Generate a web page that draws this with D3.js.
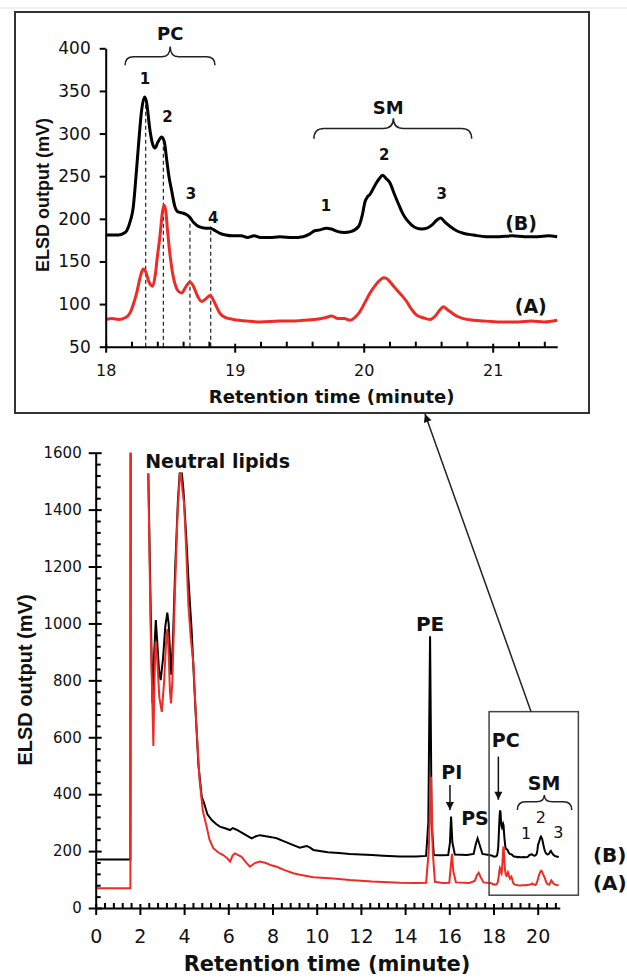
<!DOCTYPE html>
<html lang="en">
<head>
  <meta charset="UTF-8">
  <title>ELSD chromatogram</title>
  <script src="https://cdn.jsdelivr.net/npm/d3@7/dist/d3.min.js"></script>
  <style>
    body { margin: 0; background: #fff; }
  </style>
</head>
<body>
<svg></svg>
<script>
  const width = 627, height = 979

  // zoomed PC / SM region, [time (min), ELSD (mV)]
  const zoomB = [
    [18.00, 181], [18.10, 181], [18.14, 183], [18.163, 186], [18.19, 197], [18.214, 214],
    [18.235, 250], [18.253, 284], [18.279, 328], [18.30, 343], [18.315, 338], [18.343, 304],
    [18.365, 287], [18.382, 283], [18.405, 290], [18.434, 296], [18.455, 290], [18.473, 269],
    [18.49, 250], [18.51, 234], [18.537, 214], [18.56, 208], [18.59, 207], [18.625, 205],
    [18.65, 202], [18.68, 196], [18.71, 192], [18.74, 190], [18.78, 189], [18.81, 189],
    [18.85, 186], [18.886, 183], [18.93, 181], [18.98, 180], [19.05, 180], [19.10, 178],
    [19.15, 180], [19.20, 178], [19.27, 178], [19.35, 179], [19.45, 178], [19.53, 179],
    [19.58, 182], [19.62, 186], [19.66, 187], [19.71, 189], [19.75, 188], [19.80, 185],
    [19.85, 184], [19.90, 185], [19.96, 191], [19.99, 205], [20.01, 220], [20.03, 226],
    [20.05, 229], [20.09, 240], [20.12, 247], [20.147, 251], [20.175, 247], [20.204, 242],
    [20.235, 230], [20.268, 218], [20.30, 207], [20.333, 199], [20.37, 193], [20.41, 189],
    [20.45, 188], [20.49, 189], [20.53, 193], [20.57, 199], [20.597, 201], [20.63, 196],
    [20.67, 191], [20.72, 186], [20.772, 183], [20.85, 181], [20.95, 179], [21.05, 179],
    [21.15, 180], [21.25, 179], [21.35, 179], [21.43, 180], [21.50, 179]
  ]
  const zoomA = [
    [18.00, 82], [18.05, 83], [18.10, 82], [18.15, 84], [18.19, 90], [18.215, 100],
    [18.24, 113], [18.265, 130], [18.29, 141], [18.31, 138], [18.335, 126], [18.364, 121],
    [18.385, 135], [18.40, 155], [18.42, 179], [18.44, 208], [18.452, 216], [18.465, 210],
    [18.48, 185], [18.50, 156], [18.52, 135], [18.545, 120], [18.563, 115], [18.59, 113],
    [18.62, 120], [18.653, 126], [18.68, 121], [18.71, 110], [18.744, 103], [18.775, 106],
    [18.81, 110], [18.84, 103], [18.865, 95], [18.886, 89], [18.93, 84], [18.99, 82],
    [19.10, 80], [19.20, 79], [19.35, 80], [19.45, 80], [19.53, 81], [19.62, 82],
    [19.70, 84], [19.752, 86], [19.80, 83], [19.85, 83], [19.894, 81], [19.93, 84],
    [19.97, 91], [20.01, 102], [20.049, 113], [20.09, 122], [20.126, 128], [20.155, 131],
    [20.178, 130], [20.21, 125], [20.243, 119], [20.29, 111], [20.333, 103], [20.37, 94],
    [20.41, 87], [20.46, 84], [20.514, 82], [20.56, 87], [20.59, 93], [20.617, 97],
    [20.645, 94], [20.68, 90], [20.72, 86], [20.772, 83], [20.85, 81], [20.95, 80],
    [21.08, 79], [21.20, 79], [21.30, 80], [21.40, 79], [21.50, 81]
  ]

  // whole run up to 18 min (null = off scale); the rest comes from the zoom arrays
  const fullB = [
    [0, 170], [1.57, 170], [1.58, 1600], [2.0, null], [2.38, 1527], [2.50, 1000], [2.57, 720],
    [2.65, 900], [2.72, 1012], [2.78, 940], [2.86, 840], [2.94, 801], [3.05, 880], [3.15, 990],
    [3.24, 1038], [3.30, 1000], [3.36, 900], [3.42, 820], [3.50, 950], [3.60, 1200], [3.72, 1430],
    [3.80, 1527], [3.90, 1527], [3.97, 1469], [4.10, 1300], [4.20, 1150], [4.34, 977], [4.50, 720],
    [4.65, 500], [4.80, 390], [4.90, 370], [5.05, 330], [5.25, 309], [5.45, 295], [5.62, 286],
    [5.85, 280], [6.08, 274], [6.20, 281], [6.35, 276], [6.53, 268], [6.80, 256], [7.06, 245],
    [7.25, 252], [7.43, 256], [7.70, 252], [7.95, 249], [8.19, 245], [8.50, 235], [8.94, 221],
    [9.24, 212], [9.45, 216], [9.55, 218], [9.70, 212], [9.85, 204], [10.5, 196], [11.0, 193],
    [11.5, 190], [12.0, 188], [12.5, 186], [13.0, 184], [13.77, 181], [14.5, 181], [14.95, 183],
    [15.05, 300], [15.13, 955], [15.20, 300], [15.30, 186], [15.60, 185], [15.95, 186],
    [16.03, 230], [16.08, 321], [16.14, 230], [16.25, 188], [16.8, 186], [17.10, 190],
    [17.20, 225], [17.28, 245], [17.36, 225], [17.50, 190], [17.80, 186], [17.95, 184]
  ]
  const fullA = [
    [0, 69], [1.57, 69], [1.58, 1600], [2.0, null], [2.38, 1527], [2.48, 1000], [2.61, 569],
    [2.66, 800], [2.71, 936], [2.78, 880], [2.88, 740], [2.99, 689], [3.10, 800], [3.18, 930],
    [3.24, 980], [3.30, 900], [3.36, 760], [3.41, 719], [3.47, 800], [3.58, 1100], [3.70, 1380],
    [3.81, 1527], [3.86, 1527], [3.92, 1470], [4.00, 1422], [4.10, 1250], [4.19, 1070],
    [4.30, 950], [4.42, 860], [4.55, 650], [4.70, 450], [4.85, 340], [5.02, 286], [5.15, 240],
    [5.32, 210], [5.55, 195], [5.77, 186], [5.95, 175], [6.08, 163], [6.20, 185], [6.30, 192],
    [6.45, 186], [6.60, 180], [6.80, 160], [6.98, 145], [7.20, 158], [7.43, 163], [7.70, 158],
    [7.95, 150], [8.19, 145], [8.55, 133], [8.94, 122], [9.24, 117], [9.85, 108], [10.75, 104],
    [11.5, 98], [12.5, 93], [13.77, 89], [14.5, 88], [14.95, 89], [15.07, 200], [15.17, 461],
    [15.25, 200], [15.35, 92], [15.7, 88], [16.0, 89], [16.06, 140], [16.12, 190], [16.18, 130],
    [16.3, 90], [16.9, 88], [17.15, 95], [17.25, 115], [17.33, 124], [17.42, 108], [17.55, 90],
    [17.9, 87]
  ]

  const zoomTicksY = [50, 100, 150, 200, 250, 300, 350, 400]
  const zoomTicksX = [18, 19, 20, 21]
  const fullTicksY = [0, 200, 400, 600, 800, 1000, 1200, 1400, 1600]
  const fullTicksX = [0, 2, 4, 6, 8, 10, 12, 14, 16, 18, 20]

  // dashed markers under the PC peaks: [time, top value]
  const pcPeaks = [[18.31, 339], [18.447, 289], [18.653, 198], [18.814, 191]]

  // annotation text in data units
  const zoomLabels = [
    {text: 'PC', t: 18.5, v: 417, size: 18},
    {text: '1', t: 18.305, v: 365, size: 15}, {text: '2', t: 18.478, v: 320, size: 15},
    {text: '3', t: 18.661, v: 229, size: 15}, {text: '4', t: 18.834, v: 202, size: 15},
    {text: 'SM', t: 20.19, v: 331, size: 18},
    {text: '1', t: 19.708, v: 216, size: 15}, {text: '2', t: 20.16, v: 275, size: 15},
    {text: '3', t: 20.605, v: 229, size: 15},
    {text: '(B)', t: 21.22, v: 195, size: 19}, {text: '(A)', t: 21.295, v: 97, size: 19}
  ]
  const fullLabels = [
    {text: 'PE', t: 15.13, v: 1000, size: 20},
    {text: 'PI', t: 16.11, v: 479, size: 19},
    {text: 'PS', t: 17.16, v: 315, size: 19},
    {text: 'PC', t: 18.55, v: 590, size: 19},
    {text: 'SM', t: 20.29, v: 438, size: 19}
  ]
  const smNumbers = [{text: '1', t: 19.47, v: 262}, {text: '2', t: 20.14, v: 319}, {text: '3', t: 20.93, v: 265}]
  const sideLabels = [{text: '(B)', t: 22.5, v: 186}, {text: '(A)', t: 22.5, v: 87}]

  const svg = d3.select('svg')
      .attr('width', width)
      .attr('height', height)
      .style('background', '#fff')

  const defs = svg.append('defs')
  defs.append('marker')
      .attr('id', 'head')
      .attr('viewBox', '0 0 10 10')
      .attr('refX', 10).attr('refY', 5)
      .attr('markerWidth', 9).attr('markerHeight', 8)
      .attr('markerUnits', 'userSpaceOnUse')
      .attr('orient', 'auto')
      .append('path').attr('d', 'M0,0L10,5L0,10z').attr('fill', '#111')

  const hFont = '"DejaVu Sans", sans-serif'
  const vFont = '"Liberation Sans", Arial, sans-serif'
  const intFmt = d3.format('d')

  // faint rule at the very top of the scan
  svg.append('line').attr('x1', 0).attr('x2', width).attr('y1', 8).attr('y2', 8)
      .attr('stroke', '#e4e4e4').attr('stroke-width', 1)

  function styleAxis(g, size) {
    g.attr('font-family', hFont).attr('font-size', size)
    g.select('.domain').attr('stroke', '#000').attr('stroke-width', 2)
    g.selectAll('.tick line').attr('stroke', '#000').attr('stroke-width', 2)
    g.selectAll('.tick text').attr('fill', '#111')
  }

  function brace(x0, x1, xm, yEnd, yFlat, yCusp) {
    const r = Math.abs(yEnd - yFlat)
    const p = d3.path()
    p.moveTo(x0, yEnd)
    p.quadraticCurveTo(x0, yFlat, x0 + r, yFlat)
    p.lineTo(xm - r, yFlat)
    p.quadraticCurveTo(xm, yFlat, xm, yCusp)
    p.quadraticCurveTo(xm, yFlat, xm + r, yFlat)
    p.lineTo(x1 - r, yFlat)
    p.quadraticCurveTo(x1, yFlat, x1, yEnd)
    return p.toString()
  }

  function addText(g, x, y, text, size, weight, anchor) {
    g.append('text')
        .attr('x', x).attr('y', y).attr('dy', '0.36em')
        .attr('text-anchor', anchor || 'middle')
        .attr('font-family', hFont).attr('font-size', size)
        .attr('font-weight', weight || 'bold')
        .attr('fill', '#111')
        .text(text)
  }

  // ---------- upper panel: zoomed view ----------
  const frame = {x: 15, y: 12, w: 574, h: 401}
  svg.append('rect')
      .attr('x', frame.x).attr('y', frame.y).attr('width', frame.w).attr('height', frame.h)
      .attr('fill', 'none').attr('stroke', '#333').attr('stroke-width', 2)

  const x1 = d3.scaleLinear().domain([18, 21.5]).range([105.7, 557.2])
  const y1 = d3.scaleLinear().domain([50, 400]).range([346.7, 48.3])

  const upper = svg.append('g')

  // dashed drop lines
  upper.selectAll('line.pc')
      .data(pcPeaks)
      .join('line')
      .attr('x1', d => x1(d[0])).attr('x2', d => x1(d[0]))
      .attr('y1', y1(50)).attr('y2', d => y1(d[1]))
      .attr('stroke', '#222').attr('stroke-width', 1.2)
      .attr('stroke-dasharray', '4,3')

  const line1 = d3.line()
      .curve(d3.curveMonotoneX)
      .x(d => x1(d[0]))
      .y(d => y1(d[1]))

  upper.append('path').attr('d', line1(zoomB))
      .attr('fill', 'none').attr('stroke', '#000').attr('stroke-width', 3)
  upper.append('path').attr('d', line1(zoomA))
      .attr('fill', 'none').attr('stroke', '#ee2b25').attr('stroke-width', 3)

  upper.append('g')
      .attr('transform', `translate(${x1(18)},0)`)
      .call(d3.axisLeft(y1).tickValues(zoomTicksY).tickFormat(intFmt)
          .tickSize(6).tickPadding(9).tickSizeOuter(0))
      .call(g => styleAxis(g, 17))

  upper.append('g')
      .attr('transform', `translate(0,${y1(50)})`)
      .call(d3.axisBottom(x1).tickValues(zoomTicksX).tickFormat(intFmt)
          .tickSize(6).tickPadding(12).tickSizeOuter(0))
      .call(g => styleAxis(g, 16))
      .call(g => g.selectAll('.tick line').attr('y1', -3))

  upper.append('g')
      .attr('transform', `translate(0,${y1(50)})`)
      .call(d3.axisTop(x1)
          .tickValues(d3.range(18).map(i => 18 + i * 0.2).filter((d, i) => i % 5 !== 0))
          .tickSize(5).tickFormat(''))
      .call(g => g.select('.domain').remove())
      .call(g => styleAxis(g, 16))

  // braces
  upper.append('path')
      .attr('d', brace(x1(18.15), x1(18.847), x1(18.5), y1(380), y1(390), y1(402)))
      .attr('fill', 'none').attr('stroke', '#222').attr('stroke-width', 1.5)
  upper.append('path')
      .attr('d', brace(x1(19.614), x1(20.837), x1(20.23), y1(294), y1(306), y1(318)))
      .attr('fill', 'none').attr('stroke', '#222').attr('stroke-width', 1.5)

  zoomLabels.forEach(d => addText(upper, x1(d.t), y1(d.v), d.text, d.size))

  upper.append('text')
      .attr('x', 331.7).attr('y', 403)
      .attr('text-anchor', 'middle')
      .attr('font-family', hFont).attr('font-size', 18).attr('font-weight', 'bold')
      .attr('fill', '#111')
      .text('Retention time (minute)')

  upper.append('text')
      .attr('transform', 'translate(48.5,195) rotate(-90)')
      .attr('text-anchor', 'middle')
      .attr('font-family', vFont).attr('font-size', 18).attr('font-weight', 'bold')
      .attr('fill', '#111')
      .text('ELSD output (mV)')

  // ---------- lower panel: whole chromatogram ----------
  const x2 = d3.scaleLinear().domain([0, 21]).range([95.7, 95.7 + 22.1 * 21])
  const y2 = d3.scaleLinear().domain([0, 1600]).range([908, 452.7])

  const lower = svg.append('g')

  const seriesB = fullB.concat(zoomB.filter(d => d[0] <= 20.95))
  const seriesA = fullA.concat(zoomA.filter(d => d[0] <= 20.95))

  const line2 = d3.line()
      .defined(d => d[1] != null)
      .x(d => x2(d[0]))
      .y(d => y2(d[1]))

  lower.append('path').attr('d', line2(seriesB))
      .attr('fill', 'none').attr('stroke', '#000').attr('stroke-width', 2)
  lower.append('path').attr('d', line2(seriesA))
      .attr('fill', 'none').attr('stroke', '#ee2b25').attr('stroke-width', 2)

  lower.append('g')
      .attr('transform', `translate(${x2(0)},0)`)
      .call(d3.axisLeft(y2).tickValues(fullTicksY).tickFormat(intFmt)
          .tickSize(7).tickPadding(7).tickSizeOuter(0))
      .call(g => styleAxis(g, 15))
      .call(g => g.selectAll('.tick line').attr('x1', 6))

  lower.append('g')
      .attr('transform', `translate(${x2(0)},0)`)
      .call(d3.axisRight(y2)
          .tickValues(d3.range(41).map(i => i * 40).filter((d, i) => i % 5 !== 0))
          .tickSize(5).tickFormat(''))
      .call(g => g.select('.domain').remove())
      .call(g => styleAxis(g, 15))

  lower.append('g')
      .attr('transform', `translate(0,${y2(0)})`)
      .call(d3.axisBottom(x2).tickValues(fullTicksX).tickFormat(intFmt)
          .tickSize(7).tickPadding(15).tickSizeOuter(0))
      .call(g => styleAxis(g, 19))
      .call(g => g.selectAll('.tick line').attr('y1', -4))

  lower.append('g')
      .attr('transform', `translate(0,${y2(0)})`)
      .call(d3.axisTop(x2)
          .tickValues(d3.range(53).map(i => i * 0.4).filter((d, i) => i % 5 !== 0))
          .tickSize(5).tickFormat(''))
      .call(g => g.select('.domain').remove())
      .call(g => styleAxis(g, 19))

  // inset box around PC/SM and the arrow up to the zoomed view
  lower.append('rect')
      .attr('x', x2(17.8)).attr('y', y2(690))
      .attr('width', x2(21.84) - x2(17.8)).attr('height', y2(45) - y2(690))
      .attr('fill', 'none').attr('stroke', '#444').attr('stroke-width', 1.5)

  svg.append('line')
      .attr('x1', x2(19.7)).attr('y1', y2(690))
      .attr('x2', x1(20.475)).attr('y2', frame.y + frame.h + 1)
      .attr('stroke', '#222').attr('stroke-width', 1.5)
      .attr('marker-end', 'url(#head)')

  // PI and PC arrows
  ;[[16.03, 432, 344], [18.22, 532, 380]].forEach(a => {
    lower.append('line')
        .attr('x1', x2(a[0])).attr('x2', x2(a[0]))
        .attr('y1', y2(a[1])).attr('y2', y2(a[2]))
        .attr('stroke', '#111').attr('stroke-width', 1.5)
        .attr('marker-end', 'url(#head)')
  })

  lower.append('path')
      .attr('d', brace(x2(19.08), x2(21.54), x2(20.3), y2(344), y2(373), y2(397)))
      .attr('fill', 'none').attr('stroke', '#222').attr('stroke-width', 1.5)

  addText(lower, x2(2.24), y2(1572), 'Neutral lipids', 19, 'bold', 'start')
  fullLabels.forEach(d => addText(lower, x2(d.t), y2(d.v), d.text, d.size))
  smNumbers.forEach(d => addText(lower, x2(d.t), y2(d.v), d.text, 16, 'normal'))
  sideLabels.forEach(d => addText(lower, x2(d.t), y2(d.v), d.text, 20, 'bold', 'start'))

  lower.append('text')
      .attr('x', 327).attr('y', 971)
      .attr('text-anchor', 'middle')
      .attr('font-family', hFont).attr('font-size', 21).attr('font-weight', 'bold')
      .attr('fill', '#111')
      .text('Retention time (minute)')

  lower.append('text')
      .attr('transform', 'translate(32,680) rotate(-90)')
      .attr('text-anchor', 'middle')
      .attr('font-family', vFont).attr('font-size', 20).attr('font-weight', 'bold')
      .attr('fill', '#111')
      .text('ELSD output (mV)')
</script>
</body>
</html>
